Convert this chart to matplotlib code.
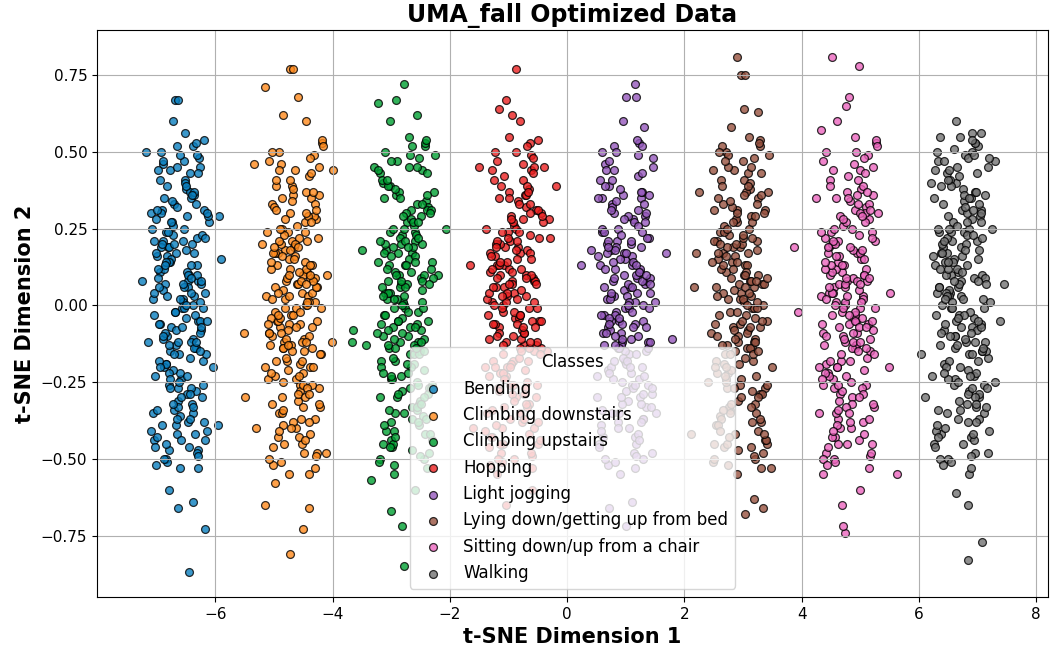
import matplotlib
matplotlib.use("Agg")
import matplotlib.pyplot as plt

classes = ["Bending", "Climbing downstairs", "Climbing upstairs", "Hopping",
           "Light jogging", "Lying down/getting up from bed",
           "Sitting down/up from a chair", "Walking"]

bending_x = [-6.69,-6.64,-6.45,-6.18,-6.64,-6.39,-6.79,-7.25,-7.18,-5.91,-5.95,-5.94,-6.72,-6.52,-6.9,-7.05,-6.6,-6.3,-7.15,-6.05,-7.1,-6.85,
-6.55,-6.39,-6.72,-6.63,-6.46,-6.52,-6.85,-6.77,-6.29,-6.49,-6.66,-6.94,-6.58,-6.42,-6.69,-6.81,-6.33,-6.47,-6.60,-6.74,
-6.24,-6.53,-6.64,-6.88,-6.38,-6.44,-6.70,-6.79,-6.56,-6.35,-6.98,-6.61,-6.50,-6.41,-6.83,-6.67,-6.18,-6.54,-6.75,-6.91,
-6.48,-6.31,-6.62,-6.78,-6.57,-6.40,-6.71,-6.86,-6.51,-6.27,-6.65,-6.73,-6.45,-6.59,-7.01,-6.68,-6.36,-6.43,-6.80,-6.76,
-6.50,-6.32,-6.63,-6.89,-6.52,-6.21,-6.72,-6.82,-6.55,-6.46,-6.66,-6.95,-6.37,-6.49,-6.61,-6.77,-6.30,-6.58,-6.84,-6.69,
-6.42,-6.15,-6.74,-6.87,-6.53,-6.44,-6.64,-6.79,-6.34,-6.60,-6.93,-6.67,-6.48,-6.39,-7.04,-6.71,-6.51,-6.26,-6.80,-6.62,
-6.56,-6.45,-6.76,-6.90,-6.36,-6.54,-6.68,-6.73,-6.41,-6.23,-6.85,-6.65,-6.57,-6.47,-6.78,-6.99,-6.33,-6.50,-6.70,-6.66]
bending_y = [0.67,0.67,-0.87,-0.73,-0.66,-0.64,-0.6,0.08,0.5,0.15,-0.39,0.29,0.6,0.56,0.46,-0.44,-0.53,-0.47,-0.12,-0.2,0.3,-0.5,
0.02,-0.11,0.23,-0.31,0.08,0.41,-0.19,0.14,-0.05,0.29,-0.42,0.11,-0.24,0.35,-0.02,0.19,-0.14,0.06,-0.36,0.27,
-0.08,0.47,-0.27,0.12,0.0,-0.17,0.33,-0.47,0.21,-0.03,0.09,-0.22,0.38,-0.12,0.16,-0.39,0.04,0.25,-0.07,0.31,
-0.29,0.13,-0.16,0.44,-0.01,0.2,-0.34,0.07,0.18,-0.09,0.52,-0.21,0.1,-0.44,0.28,-0.13,0.03,0.37,-0.26,0.15,
-0.04,0.22,-0.33,0.05,0.4,-0.18,0.26,-0.1,0.01,-0.38,0.32,-0.06,0.17,-0.23,0.49,-0.15,0.08,-0.3,0.24,-0.02,
0.13,-0.41,0.34,-0.2,0.06,0.43,-0.12,0.19,-0.28,0.02,0.3,-0.08,0.11,-0.35,0.21,-0.16,0.39,-0.05,0.14,-0.25,
0.07,-0.46,0.27,-0.11,0.36,-0.01,0.17,-0.32,0.04,0.23,-0.19,0.45,-0.07,0.1,-0.27,0.31,-0.14,0.0,0.2,-0.37]
bending_x2 = [-6.28,-6.15,-6.98,-6.82,-6.33,-6.42,-7.07,-6.91,-6.19,-6.36,-6.89,-7.03,-6.24,-6.40,-6.95,-6.86,-6.11,-6.30,-7.00,-6.79,
-6.37,-6.22,-6.93,-7.06,-6.32,-6.17,-6.81,-6.97,-6.26,-6.43,-7.04,-6.88,-6.20,-6.34,-6.92,-7.10,-6.39,-6.25,-6.85,-6.99,
-6.13,-6.31,-6.96,-6.78,-6.29,-6.16,-6.87,-7.02,-6.41,-6.23,-6.90,-7.05,-6.18,-6.35,-6.83,-6.94,-6.27,-6.44,-7.08,-6.89,
-6.34,-6.21,-7.01,-6.84,-6.25,-6.38,-6.98,-6.80,-6.14,-6.30,-6.86,-6.96,-6.40,-6.19,-6.91,-7.03,-6.32,-6.26,-6.82,-7.00]
bending_y2 = [0.48,-0.05,0.12,-0.51,0.33,-0.27,0.02,-0.39,0.54,-0.14,0.21,-0.46,0.07,-0.32,0.41,-0.09,0.27,-0.53,0.16,-0.22,
0.37,-0.01,0.5,-0.35,0.1,-0.44,0.24,-0.18,0.45,-0.29,0.04,-0.5,0.31,-0.12,0.19,-0.41,0.52,-0.07,0.14,-0.34,
0.29,-0.48,0.06,-0.24,0.43,-0.16,0.35,-0.52,0.09,-0.3,0.47,-0.03,0.22,-0.42,0.39,-0.2,0.01,-0.37,0.25,-0.1,
0.53,-0.26,0.17,-0.45,0.08,-0.33,0.44,-0.13,0.3,-0.49,0.13,-0.06,0.36,-0.38,0.2,-0.23,0.49,-0.15,0.03,-0.43]

down_x = [-4.72,-4.67,-5.15,-4.72,-4.51,-4.4,-5.15,-5.52,-5.5,-5.35,-4.0,-4.01,-4.12,-4.98,-4.6,-4.85,-4.45,-5.2,-4.1,-4.75,-4.4,-5.3,
-4.71,-4.75,-4.55,-4.38,-5.04,-4.83,-4.52,-4.62,-4.70,-4.90,-4.28,-4.46,-4.78,-4.73,-4.59,-4.41,-4.95,-4.81,-4.50,-4.61,
-4.67,-4.85,-4.31,-4.56,-4.76,-5.09,-4.44,-4.53,-4.72,-4.98,-4.65,-4.39,-4.84,-4.69,-4.49,-4.58,-4.92,-4.79,-4.20,-4.47,
-4.74,-4.89,-4.63,-4.35,-4.82,-4.66,-4.54,-4.42,-5.00,-4.71,-4.51,-4.60,-4.87,-4.77,-4.26,-4.57,-4.94,-4.68,-4.37,-4.55,
-4.81,-4.85,-4.48,-4.41,-4.73,-5.06,-4.64,-4.50,-4.78,-4.70,-4.32,-4.56,-4.91,-4.76,-4.45,-4.62,-4.83,-4.67,-4.36,-4.53,
-4.96,-4.80,-4.59,-4.23,-4.72,-4.88,-4.46,-4.55,-4.66,-5.03,-4.40,-4.61,-4.84,-4.75,-4.49,-4.43,-4.93,-4.69,-4.58,-4.29,
-4.79,-4.65,-4.52,-4.38,-4.86,-4.74,-4.47,-4.63,-4.99,-4.71,-4.54,-4.34,-4.82,-4.90,-4.57,-4.51,-4.68,-4.77,-4.44,-4.60]
down_y = [0.77,0.77,0.71,-0.81,-0.73,-0.66,-0.65,-0.09,-0.3,0.46,0.44,-0.12,-0.48,-0.58,0.68,0.62,0.6,0.2,0.1,-0.55,-0.55,-0.4,
-0.03,0.15,-0.26,0.09,0.33,-0.12,0.04,-0.4,0.21,-0.07,0.28,0.0,-0.18,0.12,-0.31,0.42,-0.05,0.18,-0.22,0.07,
0.36,-0.14,0.01,-0.28,0.24,-0.09,0.11,-0.45,0.3,-0.02,0.16,-0.2,0.05,0.39,-0.11,0.22,-0.35,0.08,-0.16,0.27,
-0.06,0.46,-0.24,0.13,-0.01,0.19,-0.37,0.03,0.32,-0.13,0.1,-0.29,0.25,-0.08,0.06,-0.43,0.17,-0.03,0.35,-0.19,
0.02,-0.25,0.14,-0.1,0.41,-0.04,0.2,-0.33,0.09,-0.15,0.29,-0.06,0.5,-0.21,0.12,-0.01,0.23,-0.38,0.04,-0.12,
0.31,-0.17,0.07,-0.27,0.18,-0.09,0.37,-0.02,0.15,-0.32,0.01,0.26,-0.14,0.1,-0.48,0.21,-0.05,0.34,-0.23,0.06,
-0.11,0.44,-0.18,0.13,-0.3,0.03,0.24,-0.07,0.17,-0.4,0.08,-0.2,0.28,-0.04,0.11,-0.26,0.38,-0.13,0.0,0.19]
down_x2 = [-4.42,-4.27,-4.98,-5.11,-4.37,-4.22,-4.86,-5.02,-4.31,-4.48,-5.09,-4.93,-4.25,-4.39,-4.97,-5.15,-4.44,-4.30,-4.90,-5.04,
-4.18,-4.36,-5.01,-4.83,-4.34,-4.21,-4.92,-5.07,-4.46,-4.28,-4.95,-5.10,-4.23,-4.40,-4.88,-4.99,-4.32,-4.49,-5.13,-4.94,
-4.39,-4.26,-5.06,-4.89,-4.30,-4.43,-5.03,-4.85,-4.19,-4.35,-4.91,-5.01,-4.45,-4.24,-4.96,-5.08,-4.37,-4.31,-4.87,-5.05,
-4.33,-4.20,-5.03,-4.87,-4.38,-4.47,-5.12,-4.96,-4.24,-4.41,-4.94,-5.08,-4.29,-4.45,-5.00,-4.91,-4.16,-4.35,-5.05,-4.84]
down_y2 = [0.29,-0.48,0.06,-0.24,0.43,-0.16,0.35,-0.52,0.09,-0.3,0.47,-0.03,0.22,-0.42,0.39,-0.2,0.01,-0.37,0.25,-0.1,
0.53,-0.26,0.17,-0.45,0.08,-0.33,0.44,-0.13,0.3,-0.49,0.13,-0.06,0.36,-0.38,0.2,-0.23,0.49,-0.15,0.03,-0.43,
0.48,-0.05,0.12,-0.51,0.33,-0.27,0.02,-0.39,0.54,-0.14,0.21,-0.46,0.07,-0.32,0.41,-0.09,0.27,-0.53,0.16,-0.22,
0.37,-0.01,0.5,-0.35,0.1,-0.44,0.24,-0.18,0.45,-0.29,0.04,-0.5,0.31,-0.12,0.19,-0.41,0.52,-0.07,0.14,-0.34]

up_x = [-2.79,-3.23,-2.92,-3.03,-2.56,-2.07,-3.65,-3.67,-3.5,-3.43,-3.34,-3.01,-2.82,-2.79,-2.95,-2.6,-3.15,-2.7,-3.3,-2.2,-3.2,-2.45,
-2.65,-2.47,-2.78,-3.04,-2.67,-2.36,-2.87,-2.97,-2.70,-2.61,-2.81,-3.10,-2.52,-2.64,-2.76,-2.92,-2.45,-2.73,-2.99,-2.84,
-2.57,-2.30,-2.89,-3.02,-2.68,-2.59,-2.79,-2.94,-2.49,-2.75,-3.08,-2.82,-2.63,-2.54,-3.19,-2.86,-2.66,-2.41,-2.95,-2.77,
-2.71,-2.60,-2.91,-3.05,-2.51,-2.69,-2.83,-2.88,-2.56,-2.38,-3.00,-2.80,-2.72,-2.62,-2.93,-3.14,-2.48,-2.65,-2.85,-2.81,
-2.70,-2.54,-2.87,-2.78,-2.61,-2.67,-3.00,-2.92,-2.44,-2.64,-2.81,-3.09,-2.73,-2.57,-2.84,-2.96,-2.48,-2.62,-2.75,-2.89,
-2.39,-2.68,-2.79,-3.03,-2.53,-2.59,-2.85,-2.94,-2.71,-2.50,-3.13,-2.76,-2.65,-2.56,-2.98,-2.82,-2.33,-2.69,-2.90,-3.06,
-2.63,-2.46,-2.77,-2.93,-2.72,-2.55,-2.86,-3.01,-2.66,-2.42,-2.80,-2.88,-2.60,-2.74,-3.16,-2.83,-2.51,-2.58,-2.95,-2.91]
up_y = [0.72,0.66,0.67,0.6,0.62,0.25,-0.08,-0.12,0.18,-0.13,-0.57,-0.67,-0.72,-0.85,-0.55,-0.6,-0.45,0.55,0.45,0.1,-0.3,-0.5,
-0.37,0.2,0.0,-0.14,0.31,-0.27,0.1,-0.07,0.45,-0.19,0.23,0.04,-0.32,0.17,-0.01,0.36,-0.11,0.27,-0.46,0.07,
-0.25,0.14,-0.05,0.39,-0.16,0.21,-0.35,0.11,-0.08,0.3,0.02,-0.28,0.19,-0.12,0.43,0.06,-0.2,0.34,-0.41,0.13,
-0.02,0.24,-0.3,0.08,-0.15,0.49,-0.23,0.17,-0.06,0.32,-0.38,0.01,-0.1,0.26,-0.18,0.4,0.05,-0.33,0.22,-0.04,
0.15,-0.26,0.37,0.03,-0.13,0.28,-0.44,0.1,-0.21,0.52,-0.09,0.18,0.07,-0.34,0.2,-0.01,0.44,-0.16,0.13,-0.29,
0.31,-0.07,0.25,0.04,-0.39,0.16,-0.12,0.38,-0.22,0.09,-0.03,0.21,-0.47,0.33,-0.17,0.0,0.12,-0.27,0.47,-0.08,
0.27,-0.36,0.06,-0.14,0.19,-0.02,0.35,-0.24,0.11,-0.42,0.29,-0.05,0.14,-0.19,0.41,0.08,-0.31,0.23,-0.11,0.02]
up_x2 = [-2.28,-2.46,-3.11,-2.93,-2.44,-2.31,-3.02,-3.17,-2.56,-2.38,-3.05,-3.20,-2.33,-2.50,-2.98,-3.09,-2.42,-2.59,-3.23,-3.04,
-2.49,-2.36,-3.16,-2.99,-2.40,-2.53,-3.13,-2.95,-2.29,-2.45,-3.01,-3.11,-2.55,-2.34,-3.06,-3.18,-2.47,-2.41,-2.97,-3.15,
-2.43,-2.30,-3.13,-2.97,-2.48,-2.57,-3.22,-3.06,-2.34,-2.51,-3.04,-3.18,-2.39,-2.55,-3.10,-3.01,-2.26,-2.45,-3.15,-2.94,
-2.52,-2.37,-3.08,-3.21,-2.47,-2.32,-2.96,-3.12,-2.41,-2.58,-3.19,-3.03,-2.35,-2.49,-3.07,-3.25,-2.54,-2.40,-3.00,-3.14]
up_y2 = [0.37,-0.01,0.5,-0.35,0.1,-0.44,0.24,-0.18,0.45,-0.29,0.04,-0.5,0.31,-0.12,0.19,-0.41,0.52,-0.07,0.14,-0.34,
0.29,-0.48,0.06,-0.24,0.43,-0.16,0.35,-0.52,0.09,-0.3,0.47,-0.03,0.22,-0.42,0.39,-0.2,0.01,-0.37,0.25,-0.1,
0.53,-0.26,0.17,-0.45,0.08,-0.33,0.44,-0.13,0.3,-0.49,0.13,-0.06,0.36,-0.38,0.2,-0.23,0.49,-0.15,0.03,-0.43,
0.48,-0.05,0.12,-0.51,0.33,-0.27,0.02,-0.39,0.54,-0.14,0.21,-0.46,0.07,-0.32,0.41,-0.09,0.27,-0.53,0.16,-0.22]

hop_x = [-0.88,-1.04,-1.17,-0.95,-0.8,-1.0,-0.19,-1.66,-0.31,-0.3,-1.5,-0.4,-1.4,-0.35,-0.9,-1.2,-0.6,-1.05,-1.6,-0.5,
-1.06,-1.10,-0.73,-0.66,-0.98,-1.31,-0.89,-0.75,-1.03,-0.95,-0.57,-0.81,-1.16,-1.01,-0.70,-0.87,-1.08,-0.92,-0.61,-0.78,
-1.21,-1.05,-0.84,-0.48,-0.97,-1.13,-0.71,-0.80,-0.91,-1.28,-0.65,-0.86,-1.09,-1.00,-0.74,-0.68,-1.18,-0.94,-0.83,-0.54,
-1.04,-0.90,-0.77,-0.63,-1.11,-0.99,-0.72,-0.88,-1.24,-0.96,-0.79,-0.59,-1.07,-1.15,-0.82,-0.76,-0.93,-1.02,-0.69,-0.85,
-0.96,-1.00,-0.80,-0.63,-1.29,-1.08,-0.77,-0.87,-0.95,-1.15,-0.53,-0.71,-1.03,-0.98,-0.84,-0.66,-1.20,-1.06,-0.75,-0.86,
-0.92,-1.10,-0.56,-0.81,-1.01,-1.34,-0.69,-0.78,-0.97,-1.23,-0.90,-0.64,-1.09,-0.94,-0.74,-0.83,-1.17,-1.04,-0.45,-0.72,
-0.99,-1.14,-0.88,-0.60,-1.07,-0.91,-0.79,-0.67,-1.25,-0.96,-0.76,-0.85,-1.12,-1.02,-0.51,-0.82,-1.19,-0.93,-0.62,-0.80]
hop_y = [0.77,0.67,0.64,0.62,0.6,0.55,0.39,0.13,0.28,0.22,0.45,0.45,-0.2,-0.15,-0.5,-0.55,-0.6,-0.65,-0.4,-0.45,
0.19,0.0,-0.13,0.38,-0.26,0.11,-0.04,0.28,-0.2,0.08,-0.4,0.17,-0.07,0.24,0.03,-0.3,0.13,-0.18,0.44,-0.11,
0.06,-0.23,0.34,-0.05,0.21,-0.48,0.1,-0.14,0.26,0.01,-0.32,0.15,-0.02,0.37,-0.09,0.18,-0.27,0.07,-0.17,0.31,
-0.12,0.04,-0.38,0.23,-0.01,0.12,-0.21,0.5,-0.06,0.29,-0.15,0.09,-0.33,0.2,-0.04,0.41,-0.1,0.14,-0.25,0.02,
-0.19,0.35,-0.03,0.17,-0.43,0.06,-0.08,0.25,-0.29,0.1,-0.13,0.32,0.03,-0.37,0.19,-0.01,0.13,-0.24,0.46,-0.06,
0.27,-0.16,0.08,-0.35,0.22,-0.11,0.39,0.05,-0.2,0.16,-0.02,0.3,-0.45,0.11,-0.09,0.24,-0.28,0.01,-0.14,0.36,
0.07,-0.22,0.18,-0.05,0.42,-0.31,0.12,-0.18,0.0,0.28,-0.07,0.21,-0.4,0.04,-0.12,0.33,0.09,-0.26,0.15,-0.03]
hop_x2 = [-0.64,-0.51,-1.31,-1.14,-0.55,-0.68,-1.28,-1.10,-0.44,-0.60,-1.16,-1.26,-0.70,-0.49,-1.21,-1.33,-0.62,-0.56,-1.12,-1.30,
-0.58,-0.45,-1.28,-1.12,-0.63,-0.72,-1.37,-1.21,-0.49,-0.66,-1.19,-1.33,-0.54,-0.70,-1.25,-1.16,-0.41,-0.60,-1.30,-1.09,
-0.67,-0.52,-1.23,-1.36,-0.62,-0.47,-1.11,-1.27,-0.56,-0.73,-1.34,-1.18,-0.50,-0.64,-1.22,-1.40,-0.69,-0.55,-1.15,-1.29,
-0.43,-0.61,-1.26,-1.08,-0.59,-0.46,-1.17,-1.32,-0.71,-0.53,-1.20,-1.35,-0.48,-0.65,-1.13,-1.24,-0.57,-0.74,-1.38,-1.19]
hop_y2 = [0.53,-0.26,0.17,-0.45,0.08,-0.33,0.44,-0.13,0.3,-0.49,0.13,-0.06,0.36,-0.38,0.2,-0.23,0.49,-0.15,0.03,-0.43,
0.48,-0.05,0.12,-0.51,0.33,-0.27,0.02,-0.39,0.54,-0.14,0.21,-0.46,0.07,-0.32,0.41,-0.09,0.27,-0.53,0.16,-0.22,
0.37,-0.01,0.5,-0.35,0.1,-0.44,0.24,-0.18,0.45,-0.29,0.04,-0.5,0.31,-0.12,0.19,-0.41,0.52,-0.07,0.14,-0.34,
0.29,-0.48,0.06,-0.24,0.43,-0.16,0.35,-0.52,0.09,-0.3,0.47,-0.03,0.22,-0.42,0.39,-0.2,0.01,-0.37,0.25,-0.1]

jog_x = [1.15,1.01,1.17,1.31,0.95,0.8,1.79,1.69,0.24,0.41,0.71,1.1,1.51,0.9,1.3,0.5,1.0,0.6,
0.62,0.99,1.10,1.19,0.77,0.93,1.42,1.06,0.85,0.69,1.12,1.29,0.98,0.82,1.03,1.20,0.89,0.74,1.09,1.33,
0.95,0.87,1.15,1.01,0.59,0.92,1.24,1.17,0.80,0.84,1.10,1.28,0.97,0.71,1.08,1.39,0.88,0.78,1.05,1.14,
0.94,0.65,1.23,1.11,0.99,0.83,1.30,1.02,0.76,0.91,1.18,1.45,0.86,0.73,1.07,1.16,0.96,0.81,1.26,1.00,
0.67,0.93,1.12,1.21,0.56,0.89,1.09,1.34,0.80,0.98,1.04,1.15,0.84,0.70,1.24,1.06,0.92,0.87,1.19,1.37,
0.75,0.95,1.03,1.13,0.82,0.61,1.27,1.10,0.90,0.94,1.05,1.21,0.88,0.97,1.14,1.08,0.75,0.83,1.31,1.11,
0.94,0.66,1.02,1.18,0.91,0.79,1.27,1.13,1.00,0.86,1.36,1.07,0.96,0.72,1.22,1.16,0.90,0.81,1.04,1.25]
jog_y = [0.72,0.68,0.68,0.58,0.6,0.52,-0.11,0.17,0.13,0.18,-0.66,-0.64,-0.35,-0.55,-0.5,-0.3,-0.72,0.35,
-0.03,0.15,-0.26,0.09,0.33,-0.12,0.04,-0.4,0.21,-0.07,0.28,0.0,-0.18,0.12,-0.31,0.42,-0.05,0.18,-0.22,0.07,
0.36,-0.14,0.01,-0.28,0.24,-0.09,0.11,-0.45,0.3,-0.02,0.16,-0.2,0.05,0.39,-0.11,0.22,-0.35,0.08,-0.16,0.27,
-0.06,0.46,-0.24,0.13,-0.01,0.19,-0.37,0.03,0.32,-0.13,0.1,-0.29,0.25,-0.08,0.06,-0.43,0.17,-0.03,0.35,-0.19,
0.02,-0.25,0.14,-0.1,0.41,-0.04,0.2,-0.33,0.09,-0.15,0.29,-0.06,0.5,-0.21,0.12,-0.01,0.23,-0.38,0.04,-0.12,
0.31,-0.17,0.07,-0.27,0.18,-0.09,0.37,-0.02,0.15,-0.32,0.01,0.26,-0.14,0.1,-0.48,0.21,-0.05,0.34,-0.23,0.06,
-0.11,0.44,-0.18,0.13,-0.3,0.03,0.24,-0.07,0.17,-0.4,0.08,-0.2,0.28,-0.04,0.11,-0.26,0.38,-0.13,0.0,0.19]
jog_x2 = [1.32,1.45,0.62,0.78,1.27,1.18,0.53,0.69,1.41,1.24,0.71,0.57,1.36,1.20,0.65,0.74,1.49,1.30,0.60,0.81,
1.23,1.38,0.67,0.54,1.28,1.43,0.79,0.63,1.34,1.17,0.56,0.72,1.40,1.26,0.68,0.50,1.21,1.35,0.75,0.61,
1.47,1.29,0.64,0.82,1.31,1.44,0.73,0.58,1.19,1.37,0.70,0.55,1.42,1.25,0.77,0.66,1.33,1.16,0.52,0.71,
1.26,1.39,0.59,0.76,1.35,1.22,0.62,0.80,1.46,1.30,0.74,0.64,1.20,1.41,0.69,0.57,1.28,1.34,0.78,0.60]
jog_y2 = [0.29,-0.48,0.06,-0.24,0.43,-0.16,0.35,-0.52,0.09,-0.3,0.47,-0.03,0.22,-0.42,0.39,-0.2,0.01,-0.37,0.25,-0.1,
0.53,-0.26,0.17,-0.45,0.08,-0.33,0.44,-0.13,0.3,-0.49,0.13,-0.06,0.36,-0.38,0.2,-0.23,0.49,-0.15,0.03,-0.43,
0.48,-0.05,0.12,-0.51,0.33,-0.27,0.02,-0.39,0.54,-0.14,0.21,-0.46,0.07,-0.32,0.41,-0.09,0.27,-0.53,0.16,-0.22,
0.37,-0.01,0.5,-0.35,0.1,-0.44,0.24,-0.18,0.45,-0.29,0.04,-0.5,0.31,-0.12,0.19,-0.41,0.52,-0.07,0.14,-0.34]

lying_x = [2.89,2.96,3.03,3.02,3.25,2.8,3.1,2.25,2.2,2.17,3.34,3.03,3.47,2.11,3.18,3.4,2.9,3.2,2.5,2.7,3.5,2.4,
2.95,3.21,2.76,2.91,3.11,3.02,2.68,2.81,3.40,3.13,2.86,2.71,2.97,3.25,2.78,2.94,3.06,3.18,2.60,2.89,
3.09,3.00,2.73,2.83,3.34,3.03,2.66,2.92,3.23,3.05,2.79,2.75,3.12,3.19,2.87,2.54,2.96,3.10,2.82,2.90,
3.28,3.04,2.69,2.84,3.15,2.98,2.77,2.93,3.24,3.07,2.64,2.80,3.01,3.37,2.88,2.72,3.14,3.05,2.94,2.57,
3.20,2.99,2.76,2.85,3.11,3.17,2.67,2.91,3.02,3.31,2.81,2.95,3.08,3.22,2.74,2.86,3.13,2.97,2.61,2.89,
3.06,3.26,2.78,2.70,3.03,3.09,2.92,2.83,3.16,3.00,2.89,2.85,3.05,3.22,2.56,2.77,3.08,2.98,2.90,2.70,
3.32,3.14,2.82,2.87,3.01,3.19,2.65,2.79,3.10,2.99,2.93,2.75,3.29,3.04,2.84,2.51,3.16,3.07,2.88,2.62]
lying_y = [0.81,0.75,0.75,0.64,0.63,0.58,0.55,0.37,0.17,0.06,-0.66,-0.68,-0.53,-0.42,-0.63,-0.45,-0.55,-0.5,-0.45,0.5,-0.2,-0.25,
0.02,-0.11,0.23,-0.31,0.08,0.41,-0.19,0.14,-0.05,0.29,-0.42,0.11,-0.24,0.35,-0.02,0.19,-0.14,0.06,-0.36,0.27,
-0.08,0.47,-0.27,0.12,0.0,-0.17,0.33,-0.47,0.21,-0.03,0.09,-0.22,0.38,-0.12,0.16,-0.39,0.04,0.25,-0.07,0.31,
-0.29,0.13,-0.16,0.44,-0.01,0.2,-0.34,0.07,0.18,-0.09,0.52,-0.21,0.1,-0.44,0.28,-0.13,0.03,0.37,-0.26,0.15,
-0.04,0.22,-0.33,0.05,0.4,-0.18,0.26,-0.1,0.01,-0.38,0.32,-0.06,0.17,-0.23,0.49,-0.15,0.08,-0.3,0.24,-0.02,
0.13,-0.41,0.34,-0.2,0.06,0.43,-0.12,0.19,-0.28,0.02,0.3,-0.08,0.11,-0.35,0.21,-0.16,0.39,-0.05,0.14,-0.25,
0.07,-0.46,0.27,-0.11,0.36,-0.01,0.17,-0.32,0.04,0.23,-0.19,0.45,-0.07,0.1,-0.27,0.31,-0.14,0.0,0.2,-0.37]
lying_x2 = [3.18,3.33,2.62,2.49,3.23,3.38,2.74,2.58,3.29,3.12,2.51,2.67,3.35,3.21,2.63,2.45,3.16,3.30,2.70,2.56,
3.42,3.24,2.59,2.77,3.26,3.39,2.68,2.53,3.14,3.32,2.65,2.50,3.37,3.20,2.72,2.61,3.28,3.11,2.47,2.66,
3.21,3.34,2.54,2.71,3.30,3.17,2.57,2.75,3.41,3.25,2.69,2.59,3.15,3.36,2.64,2.52,3.23,3.29,2.73,2.55,
3.27,3.40,2.57,2.73,3.22,3.13,2.48,2.64,3.36,3.19,2.66,2.52,3.31,3.15,2.60,2.69,3.44,3.25,2.55,2.76]
lying_y2 = [0.48,-0.05,0.12,-0.51,0.33,-0.27,0.02,-0.39,0.54,-0.14,0.21,-0.46,0.07,-0.32,0.41,-0.09,0.27,-0.53,0.16,-0.22,
0.37,-0.01,0.5,-0.35,0.1,-0.44,0.24,-0.18,0.45,-0.29,0.04,-0.5,0.31,-0.12,0.19,-0.41,0.52,-0.07,0.14,-0.34,
0.29,-0.48,0.06,-0.24,0.43,-0.16,0.35,-0.52,0.09,-0.3,0.47,-0.03,0.22,-0.42,0.39,-0.2,0.01,-0.37,0.25,-0.1,
0.53,-0.26,0.17,-0.45,0.08,-0.33,0.44,-0.13,0.3,-0.49,0.13,-0.06,0.36,-0.38,0.2,-0.23,0.49,-0.15,0.03,-0.43]

sit_x = [4.51,4.97,4.81,4.75,4.32,4.6,4.9,3.86,3.93,5.63,4.74,4.7,4.68,4.37,5.51,5.48,5.3,4.3,5.2,4.25,5.0,4.55,
4.47,4.73,4.92,5.01,4.36,4.69,4.89,5.14,4.60,4.78,4.84,4.95,4.64,4.50,5.04,4.86,4.72,4.67,4.99,5.17,
4.55,4.75,4.83,4.93,4.62,4.41,5.07,4.90,4.70,4.74,4.85,5.01,4.68,4.77,4.94,4.88,4.55,4.63,5.11,4.91,
4.74,4.46,4.82,4.98,4.71,4.59,5.07,4.93,4.80,4.66,5.16,4.87,4.76,4.52,5.02,4.96,4.70,4.61,4.84,5.05,
4.42,4.79,4.90,4.99,4.57,4.73,5.22,4.86,4.65,4.49,4.92,5.09,4.78,4.62,4.83,5.00,4.69,4.54,4.89,5.13,
4.75,4.67,4.95,4.81,4.39,4.72,5.04,4.97,4.60,4.64,4.90,5.08,4.77,4.51,4.88,5.19,4.68,4.58,4.85,4.94,
4.74,4.45,5.03,4.91,4.79,4.63,5.10,4.82,4.56,4.71,4.98,5.25,4.66,4.53,4.87,4.96,4.76,4.61,5.06,4.80]
sit_y = [0.81,0.78,0.68,0.65,0.57,0.6,0.55,0.19,-0.02,-0.55,-0.74,-0.72,-0.65,-0.55,0.04,-0.2,0.3,-0.35,-0.45,0.35,-0.6,-0.5,
0.19,0.0,-0.13,0.38,-0.26,0.11,-0.04,0.28,-0.2,0.08,-0.4,0.17,-0.07,0.24,0.03,-0.3,0.13,-0.18,0.44,-0.11,
0.06,-0.23,0.34,-0.05,0.21,-0.48,0.1,-0.14,0.26,0.01,-0.32,0.15,-0.02,0.37,-0.09,0.18,-0.27,0.07,-0.17,0.31,
-0.12,0.04,-0.38,0.23,-0.01,0.12,-0.21,0.5,-0.06,0.29,-0.15,0.09,-0.33,0.2,-0.04,0.41,-0.1,0.14,-0.25,0.02,
-0.19,0.35,-0.03,0.17,-0.43,0.06,-0.08,0.25,-0.29,0.1,-0.13,0.32,0.03,-0.37,0.19,-0.01,0.13,-0.24,0.46,-0.06,
0.27,-0.16,0.08,-0.35,0.22,-0.11,0.39,0.05,-0.2,0.16,-0.02,0.3,-0.45,0.11,-0.09,0.24,-0.28,0.01,-0.14,0.36,
0.07,-0.22,0.18,-0.05,0.42,-0.31,0.12,-0.18,0.0,0.28,-0.07,0.21,-0.4,0.04,-0.12,0.33,0.09,-0.26,0.15,-0.03]
sit_x2 = [5.27,5.09,4.44,4.62,5.11,5.24,4.53,4.38,4.99,5.17,4.50,4.35,5.22,5.05,4.57,4.46,5.13,4.96,4.32,4.51,
5.06,5.19,4.39,4.56,5.15,5.02,4.42,4.60,5.26,5.10,4.54,4.44,5.00,5.21,4.49,4.37,5.08,5.14,4.58,4.40,
5.12,5.25,4.42,4.58,5.07,4.98,4.33,4.49,5.21,5.04,4.51,4.37,5.16,5.00,4.45,4.54,5.29,5.10,4.40,4.61,
5.03,5.18,4.47,4.34,5.08,5.23,4.59,4.43,5.14,4.97,4.36,4.52,5.20,5.06,4.48,4.30,5.01,5.15,4.55,4.41]
sit_y2 = [0.53,-0.26,0.17,-0.45,0.08,-0.33,0.44,-0.13,0.3,-0.49,0.13,-0.06,0.36,-0.38,0.2,-0.23,0.49,-0.15,0.03,-0.43,
0.48,-0.05,0.12,-0.51,0.33,-0.27,0.02,-0.39,0.54,-0.14,0.21,-0.46,0.07,-0.32,0.41,-0.09,0.27,-0.53,0.16,-0.22,
0.37,-0.01,0.5,-0.35,0.1,-0.44,0.24,-0.18,0.45,-0.29,0.04,-0.5,0.31,-0.12,0.19,-0.41,0.52,-0.07,0.14,-0.34,
0.29,-0.48,0.06,-0.24,0.43,-0.16,0.35,-0.52,0.09,-0.3,0.47,-0.03,0.22,-0.42,0.39,-0.2,0.01,-0.37,0.25,-0.1]

walk_x = [6.63,6.36,7.05,7.3,6.7,6.9,7.45,7.38,6.03,6.84,7.07,6.86,6.63,6.84,7.2,6.5,6.2,7.25,6.1,7.3,6.75,6.95,
6.97,6.76,6.53,6.62,6.88,6.94,6.44,6.68,6.79,7.08,6.58,6.72,6.85,6.99,6.51,6.63,6.90,6.74,6.38,6.66,
6.83,7.03,6.55,6.47,6.80,6.86,6.69,6.60,6.93,6.77,6.66,6.62,6.82,6.99,6.33,6.54,6.85,6.75,6.67,6.47,
7.09,6.91,6.59,6.64,6.78,6.96,6.42,6.56,6.87,6.76,6.70,6.52,7.06,6.81,6.61,6.28,6.93,6.84,6.65,6.39,
6.72,6.98,6.53,6.68,6.88,6.79,6.45,6.58,7.17,6.90,6.63,6.48,6.74,7.02,6.55,6.71,6.83,6.95,6.37,6.66,
6.86,6.77,6.50,6.60,7.11,6.80,6.43,6.69,7.00,6.82,6.56,6.52,6.89,6.96,6.64,6.31,6.73,6.87,6.59,6.67,
7.05,6.81,6.46,6.61,6.92,6.75,6.54,6.70,7.01,6.84,6.41,6.57,6.78,7.14,6.65,6.49,6.91,6.82,6.71,6.34]
walk_y = [0.6,0.55,0.56,0.47,0.55,0.5,0.07,-0.05,-0.16,-0.83,-0.77,-0.55,-0.61,-0.65,-0.41,-0.5,0.4,0.25,-0.3,-0.25,-0.45,-0.48,
-0.33,0.24,0.04,-0.10,0.35,-0.23,0.14,-0.03,0.49,-0.15,0.27,0.08,-0.28,0.21,0.03,0.40,-0.07,0.31,-0.42,0.11,
-0.21,0.18,-0.01,0.43,-0.12,0.25,-0.31,0.15,-0.04,0.34,0.06,-0.24,0.23,-0.08,0.47,0.10,-0.16,0.38,-0.37,0.17,
0.02,0.28,-0.26,0.12,-0.11,0.53,-0.19,0.21,-0.02,0.36,-0.34,0.05,-0.06,0.30,-0.14,0.44,0.09,-0.29,0.26,0.00,
0.19,-0.22,0.41,0.07,-0.09,0.32,-0.40,0.14,-0.17,0.56,-0.05,0.22,0.11,-0.30,0.24,0.03,0.48,-0.12,0.17,-0.25,
0.35,-0.03,0.29,0.08,-0.35,0.20,-0.08,0.42,-0.18,0.13,0.01,0.25,-0.43,0.37,-0.13,0.04,0.16,-0.23,0.51,-0.04,
0.31,-0.32,0.10,-0.10,0.23,0.02,0.39,-0.20,0.15,-0.38,0.33,-0.01,0.18,-0.15,0.45,0.12,-0.27,0.27,-0.07,0.06]
walk_x2 = [6.98,7.11,6.31,6.48,7.07,6.94,6.34,6.52,7.18,7.02,6.46,6.36,6.92,7.13,6.41,6.29,7.00,7.06,6.50,6.32,
7.04,7.17,6.34,6.50,6.99,6.90,6.25,6.41,7.13,6.96,6.43,6.29,7.08,6.92,6.37,6.46,7.21,7.02,6.32,6.53,
6.95,7.10,6.39,6.26,7.00,7.15,6.51,6.35,7.06,6.89,6.28,6.44,7.12,6.98,6.40,6.22,6.93,7.07,6.47,6.33,
7.19,7.01,6.36,6.54,7.03,7.16,6.45,6.30,6.91,7.09,6.42,6.27,7.14,6.97,6.49,6.38,7.05,6.88,6.24,6.43]
walk_y2 = [0.37,-0.01,0.5,-0.35,0.1,-0.44,0.24,-0.18,0.45,-0.29,0.04,-0.5,0.31,-0.12,0.19,-0.41,0.52,-0.07,0.14,-0.34,
0.29,-0.48,0.06,-0.24,0.43,-0.16,0.35,-0.52,0.09,-0.3,0.47,-0.03,0.22,-0.42,0.39,-0.2,0.01,-0.37,0.25,-0.1,
0.53,-0.26,0.17,-0.45,0.08,-0.33,0.44,-0.13,0.3,-0.49,0.13,-0.06,0.36,-0.38,0.2,-0.23,0.49,-0.15,0.03,-0.43,
0.48,-0.05,0.12,-0.51,0.33,-0.27,0.02,-0.39,0.54,-0.14,0.21,-0.46,0.07,-0.32,0.41,-0.09,0.27,-0.53,0.16,-0.22]

xs = [bending_x + bending_x2, down_x + down_x2, up_x + up_x2, hop_x + hop_x2,
      jog_x + jog_x2, lying_x + lying_x2, sit_x + sit_x2, walk_x + walk_x2]
ys = [bending_y + bending_y2, down_y + down_y2, up_y + up_y2, hop_y + hop_y2,
      jog_y + jog_y2, lying_y + lying_y2, sit_y + sit_y2, walk_y + walk_y2]
colors = ["#0a7fbf", "#ff8a1c", "#00a032", "#ec2020", "#9558bc", "#97513f", "#ec66be", "#737373"]

fig = plt.figure(figsize=(10.52, 6.54), dpi=100)
ax = fig.add_axes([97/1052, 1 - 597/654, (1048 - 97)/1052, (597 - 30)/654])

for name, x, y, c in zip(classes, xs, ys, colors):
    ax.scatter(x, y, s=32, c=c, alpha=0.8, edgecolors="k", linewidths=0.9, label=name)

ax.set_xlim(-8.02, 8.2)
ax.set_ylim(-0.95, 0.897)
ax.set_xticks([-6, -4, -2, 0, 2, 4, 6, 8])
ax.set_yticks([-0.75, -0.5, -0.25, 0.0, 0.25, 0.5, 0.75])
ax.tick_params(labelsize=11)
ax.grid(True)

ax.set_title("UMA_fall Optimized Data", fontsize=17, fontweight="bold", pad=6)
ax.set_xlabel("t-SNE Dimension 1", fontsize=15, fontweight="bold")
ax.set_ylabel("t-SNE Dimension 2", fontsize=15, fontweight="bold")

ax.legend(title="Classes", loc="lower center", fontsize=12, title_fontsize=12,
          labelspacing=0.5)

fig.savefig("out.png", dpi=100)
